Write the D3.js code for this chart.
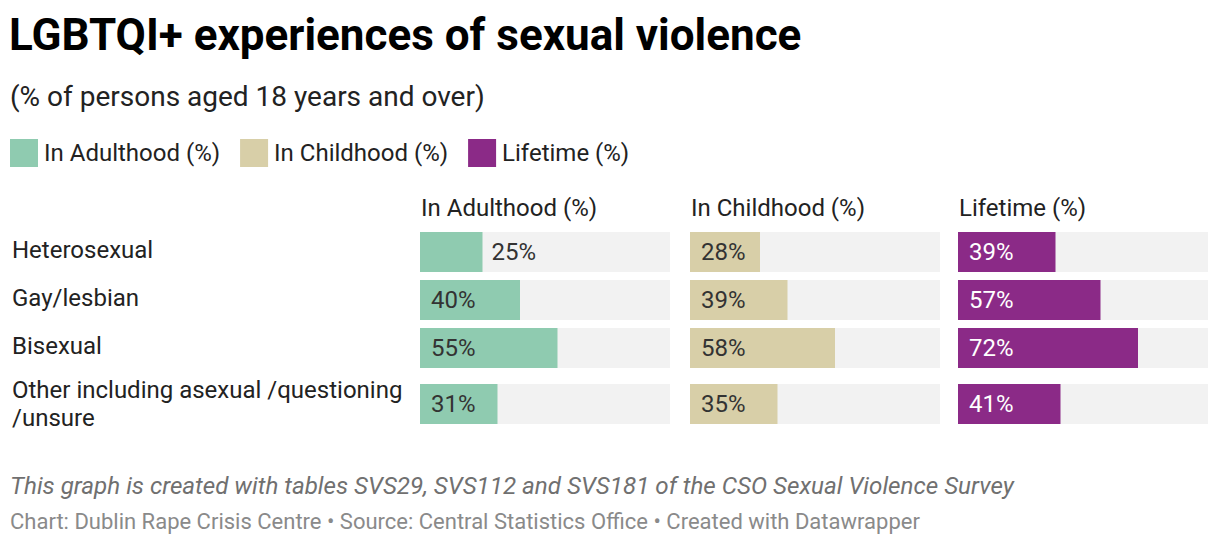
<!DOCTYPE html>
<html lang="en">
<head>
<meta charset="utf-8">
<title>LGBTQI+ experiences of sexual violence</title>
<script src="https://d3js.org/d3.v7.min.js"></script>
<style>
  body { margin: 0; background: #fff; }
  text { font-family: Roboto, "Noto Sans", sans-serif; }
</style>
</head>
<body>
<script>
var groups = ["Heterosexual", "Gay/lesbian", "Bisexual", "Other including asexual /questioning /unsure"];
var series = ["In Adulthood (%)", "In Childhood (%)", "Lifetime (%)"];
var adulthood = [25, 40, 55, 31];
var childhood = [28, 39, 58, 35];
var lifetime = [39, 57, 72, 41];
var colors = ["#8fcbb0", "#d8cfa8", "#8b2a87"];
var labelColors = ["#333", "#333", "#fff"];

var values = [adulthood, childhood, lifetime];

var width = 1220, height = 548;

var svg = d3.select("body").append("svg")
  .attr("width", width)
  .attr("height", height);

// title block
svg.append("text")
  .attr("x", 9).attr("y", 50)
  .attr("font-size", 44).attr("font-weight", "bold").attr("fill", "#000")
  .text("LGBTQI+ experiences of sexual violence");

svg.append("text")
  .attr("x", 10).attr("y", 106)
  .attr("font-size", 28).attr("fill", "#222")
  .text("(% of persons aged 18 years and over)");

// legend
var lx = 10;
series.forEach(function(s, i) {
  svg.append("rect")
    .attr("x", lx).attr("y", 139).attr("width", 28).attr("height", 28)
    .attr("fill", colors[i]);
  var t = svg.append("text")
    .attr("x", lx + 34).attr("y", 161)
    .attr("font-size", 24).attr("fill", "#222")
    .text(s);
  lx += 34 + t.node().getComputedTextLength() + 20;
});

// layout of the small multiples
var colX = d3.scaleOrdinal().domain(series).range([420, 690, 958]);
var x = d3.scaleLinear().domain([0, 100]).range([0, 250]);
var rowY = [232, 280, 328, 384];
var barH = 40;

series.forEach(function(s, c) {
  var g = svg.append("g").attr("transform", "translate(" + colX(s) + ",0)");

  g.append("text")
    .attr("x", 1).attr("y", 216)
    .attr("font-size", 24).attr("fill", "#222")
    .text(s);

  groups.forEach(function(grp, r) {
    var v = values[c][r];
    g.append("rect")
      .attr("x", 0).attr("y", rowY[r])
      .attr("width", x(100)).attr("height", barH)
      .attr("fill", "#f2f2f2");
    g.append("rect")
      .attr("x", 0).attr("y", rowY[r])
      .attr("width", x(v)).attr("height", barH)
      .attr("fill", colors[c]);

    var inside = x(v) > 66;
    g.append("text")
      .attr("x", inside ? 11 : x(v) + 9)
      .attr("y", rowY[r] + barH / 2 + 8)
      .attr("font-size", 24)
      .attr("fill", inside ? labelColors[c] : "#333")
      .text(v + "%");
  });
});

// row labels
var rowLabelLines = [["Heterosexual"], ["Gay/lesbian"], ["Bisexual"], ["Other including asexual /questioning", "/unsure"]];
rowLabelLines.forEach(function(lines, r) {
  var t = svg.append("text")
    .attr("font-size", 24).attr("fill", "#222");
  var y0 = lines.length > 1 ? rowY[r] + 14 : rowY[r] + barH / 2 + 6;
  lines.forEach(function(l, i) {
    t.append("tspan").attr("x", 12).attr("y", y0 + i * 28).text(l);
  });
});

// notes
svg.append("text")
  .attr("x", 10).attr("y", 494)
  .attr("font-size", 24.2).attr("font-style", "italic").attr("fill", "#707070")
  .text("This graph is created with tables SVS29, SVS112 and SVS181 of the CSO Sexual Violence Survey");

svg.append("text")
  .attr("x", 10).attr("y", 529)
  .attr("font-size", 22).attr("fill", "#8a8a8a")
  .text("Chart: Dublin Rape Crisis Centre \u2022 Source: Central Statistics Office \u2022 Created with Datawrapper");
</script>
</body>
</html>
